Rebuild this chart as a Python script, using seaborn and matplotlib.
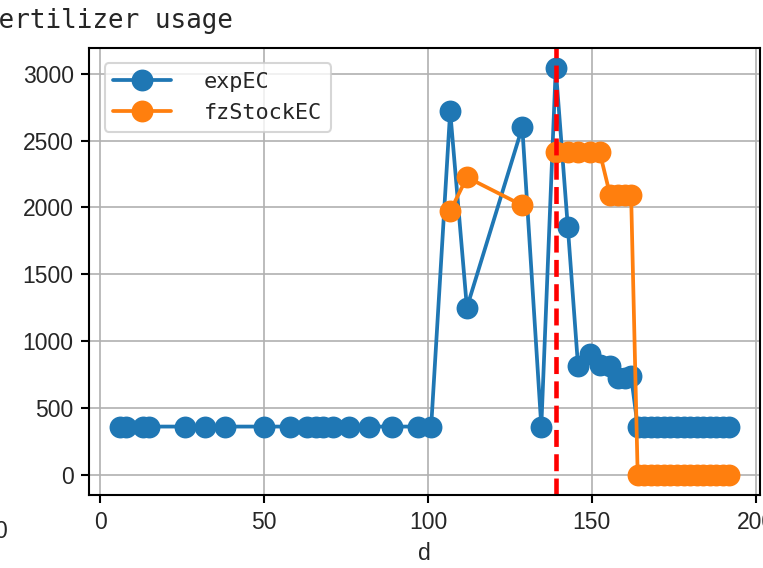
import numpy as np
import pandas as pd
import matplotlib
matplotlib.use("Agg")
import matplotlib.pyplot as plt
import seaborn as sns

# days and values
days = [6, 8, 13, 15, 26, 32, 38, 50, 58, 63, 66, 68, 71, 76, 82, 89, 97, 101,
        106.8, 111.9, 128.8, 134.6, 139, 142.7, 145.8, 149.6, 152.4, 155.6,
        158, 160, 162,
        164, 166, 168, 170, 172, 174, 176, 178, 180, 182, 184, 186, 188, 190, 192]
exp_ec = [360] * 18 + [2720, 1250, 2600, 360, 3040, 1850, 815, 905, 820, 810,
                       725, 725, 735] + [360] * 15
fz_stock_ec = [np.nan] * 18 + [1970, 2225, 2015, np.nan, 2415, 2415, 2415, 2415,
                               2415, 2090, 2090, 2090, 2090] + [0] * 15
event_day = 139

df = pd.DataFrame({"d": days, "expEC": exp_ec, "fzStockEC": fz_stock_ec})
# split the stock series where it has a gap so the line is not joined across it
df["seg"] = df["fzStockEC"].isna().cumsum()

sns.set_style("ticks")
plt.rcParams["font.family"] = ["Liberation Sans", "DejaVu Sans"]

fig = plt.figure(figsize=(763 / 150, 568 / 150), dpi=150)
ax = fig.add_axes([0.117, 0.1285, 0.879, 0.787])

blue = "#1f77b4"
orange = "#ff7f0e"
sns.lineplot(data=df, x="d", y="expEC", ax=ax, color=blue, marker="o",
             markersize=10.5, markeredgewidth=0, linewidth=1.8, label="expEC",
             sort=False)
first = True
for _, seg in df.dropna(subset=["fzStockEC"]).groupby("seg"):
    sns.lineplot(data=seg, x="d", y="fzStockEC", ax=ax, color=orange, marker="o",
                 markersize=10.5, markeredgewidth=0, linewidth=1.8, sort=False,
                 label="fzStockEC" if first else None)
    first = False

ax.axvline(event_day, color="red", linestyle="--", linewidth=2.2)

ax.set_xlim(-3.3, 201.3)
ax.set_xticks([0, 50, 100, 150, 200])
ax.set_yticks([0, 500, 1000, 1500, 2000, 2500, 3000])
ax.grid(True, color="#b0b0b0", linewidth=0.8)
ax.set_axisbelow(True)
for s in ax.spines.values():
    s.set_color("black")
    s.set_linewidth(1.0)
ax.tick_params(labelsize=11, color="black", length=4, width=1)
ax.set_xlabel("d", fontsize=11)
ax.set_ylabel("")

ax.legend(loc="upper left", prop={"family": "DejaVu Sans Mono", "size": 10.5},
          handlelength=2.65, handletextpad=1.5, borderaxespad=0.7,
          framealpha=0.8, edgecolor="#cccccc")

# title of the cropped panel, its first letter falls outside the picture
fig.text(-0.022, 0.95, "fertilizer usage", family="DejaVu Sans Mono",
         fontsize=12.5, ha="left", va="baseline")
# tick label of a neighbouring panel, mostly cut off
fig.text(-0.008, 0.065, "0", fontsize=11, ha="left", va="center")

fig.savefig("out.png", dpi=150)
